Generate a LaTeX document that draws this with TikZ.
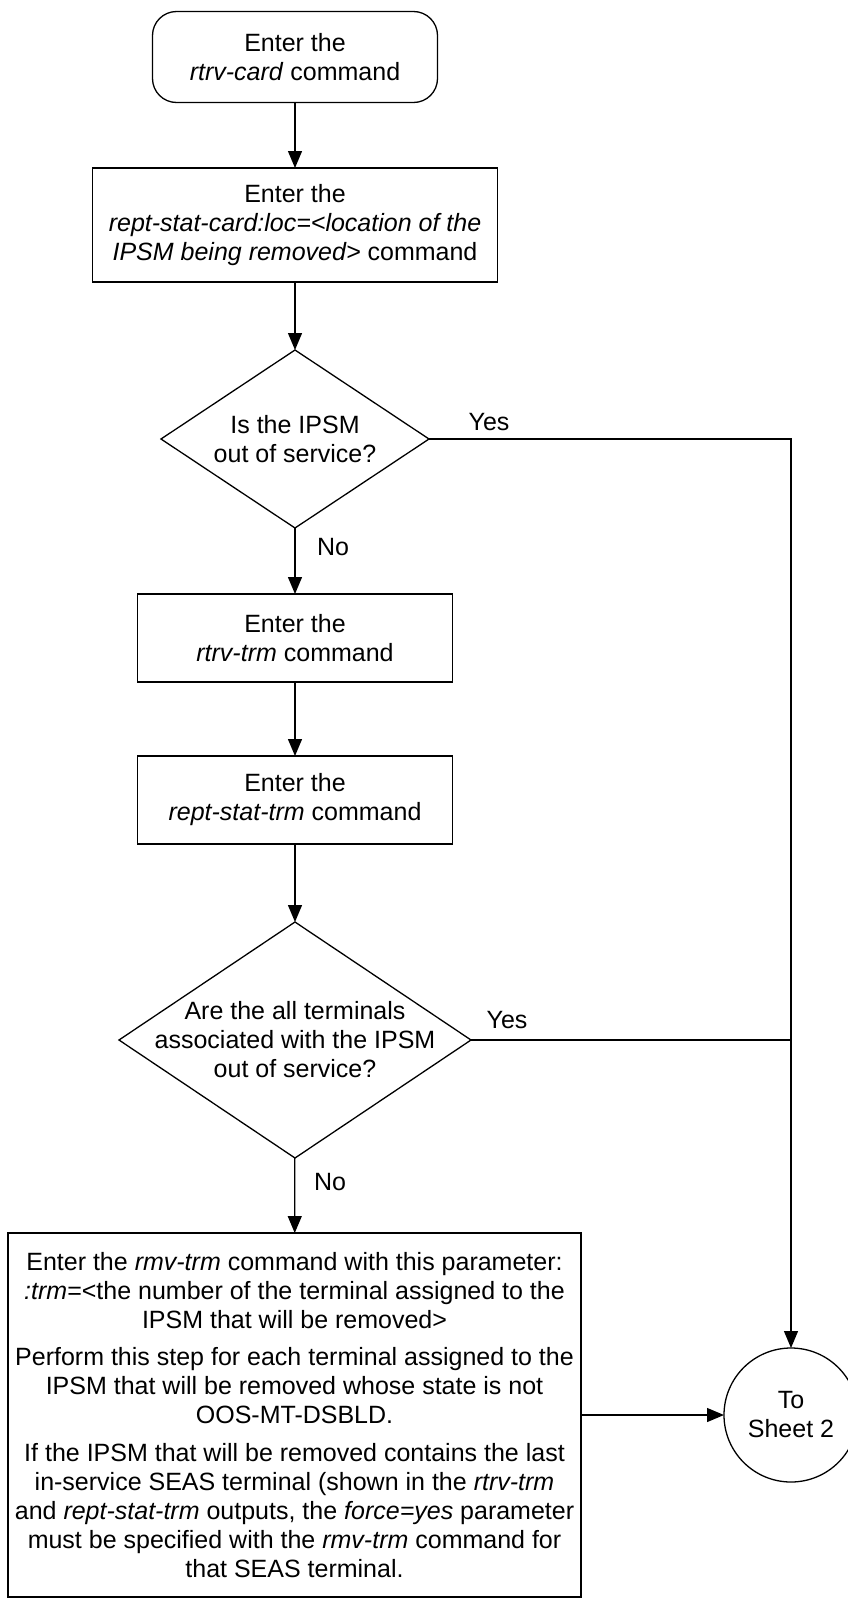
\documentclass[tikz,border=0pt]{standalone}
\usepackage{fontspec}
\setmainfont{Liberation Sans}
\usetikzlibrary{shapes.geometric,arrows.meta}
\begin{document}
\begin{tikzpicture}[x=1pt,y=-1pt,
  every node/.style={font=\fontsize{25}{29}\selectfont, inner sep=0pt, outer sep=0pt},
  lw/.style={line width=1.3pt},
  box/.style={draw, lw, rectangle, align=center},
  term/.style={box, rounded corners=24pt},
  dec/.style={draw, lw, diamond},
  conn/.style={draw, lw, circle, align=center, minimum size=134pt},
  flow/.style={lw, -{Triangle[length=17pt,width=14pt]}},
  txt/.style={align=center}]
\useasboundingbox (0,0) rectangle (847,1598);

\node[term, minimum width=285pt, minimum height=91pt] (start) at (295,57)
  {Enter the\\\textit{rtrv-card} command};
\node[box, minimum width=405pt, minimum height=114pt] (b2) at (295,225)
  {Enter the\\\textit{rept-stat-card:loc=<location of the}\\\textit{IPSM being removed>} command};
\node[dec, minimum width=268pt, minimum height=178pt] (d1) at (295,439) {};
\node[txt] (d1t) at (d1) {Is the IPSM\\out of service?};
\node[box, minimum width=315pt, minimum height=88pt] (b3) at (295,638)
  {Enter the\\\textit{rtrv-trm} command};
\node[box, minimum width=315pt, minimum height=88pt] (b4) at (295,800)
  {Enter the\\\textit{rept-stat-trm} command};
\node[dec, minimum width=352pt, minimum height=236pt] (d2) at (295,1040) {};
\node[txt] (d2t) at (d2) {Are the all terminals\\associated with the IPSM\\out of service?};
\node[box, minimum width=573pt, minimum height=364pt] (b5) at (294.5,1415)
  {Enter the \textit{rmv-trm} command with this parameter:\\
   \textit{:trm}=<the number of the terminal assigned to the\\
   IPSM that will be removed>\\[8pt]
   Perform this step for each terminal assigned to the\\
   IPSM that will be removed whose state is not\\
   OOS-MT-DSBLD.\\[9pt]
   If the IPSM that will be removed contains the last\\
   in-service SEAS terminal (shown in the \textit{rtrv-trm}\\
   and \textit{rept-stat-trm} outputs, the \textit{force=yes} parameter\\
   must be specified with the \textit{rmv-trm} command for\\
   that SEAS terminal.};
\node[conn] (c) at (791,1415) {To\\Sheet 2};

\node (y1) at (489,422) {Yes};
\node (n1) at (333,547) {No};
\node (y2) at (507,1020) {Yes};
\node (n2) at (330,1182) {No};

\draw[flow] (start) -- (b2);
\draw[flow] (b2) -- (d1);
\draw[flow] (d1) -- (b3);
\draw[flow] (b3) -- (b4);
\draw[flow] (b4) -- (d2);
\draw[flow] (d2) -- (b5);
\draw[flow] (d1.east) -- (d1.east -| c.north) -- (c.north);
\draw[lw] (d2.east) -- (d2.east -| c.north);
\draw[flow] (b5) -- (c);
\end{tikzpicture}
\end{document}
